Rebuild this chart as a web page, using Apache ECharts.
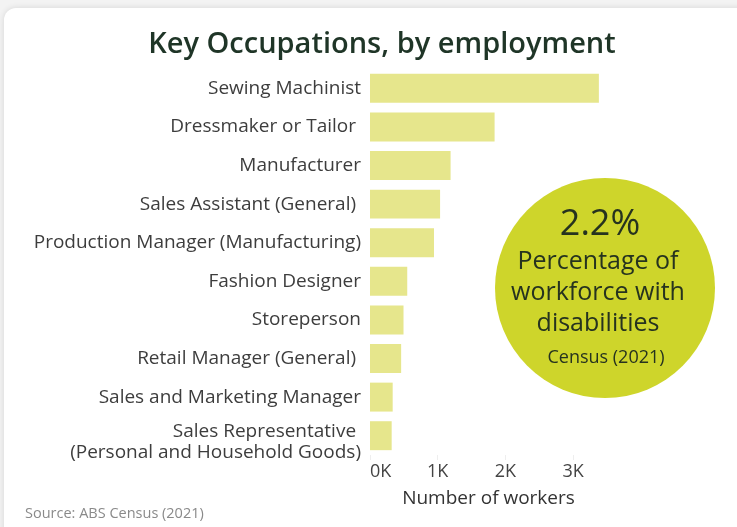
<!DOCTYPE html>
<html>
<head>
<meta charset="utf-8">
<title>Key Occupations, by employment</title>
<script src="https://cdn.jsdelivr.net/npm/echarts@6/dist/echarts.min.js"></script>
<style>
  html, body { margin: 0; padding: 0; background: #f3f3f3; }
  #chart { width: 737px; height: 527px; }
</style>
</head>
<body>
<div id="chart"></div>
<script>
// Occupations, listed from the largest employer down
const occupations = [
  'Sewing Machinist',
  'Dressmaker or Tailor ',
  'Manufacturer',
  'Sales Assistant (General) ',
  'Production Manager (Manufacturing)',
  'Fashion Designer',
  'Storeperson',
  'Retail Manager (General) ',
  'Sales and Marketing Manager',
  'Sales Representative \n(Personal and Household Goods)'
];
// Number of workers in each occupation
const workers = [3380, 1840, 1190, 1035, 945, 550, 495, 460, 335, 320];
// Axis ticks, in thousands of workers
const tickStep = 1000;
const axisMax = 3500;

// Highlight figure shown in the circle
const disabilityShare = '2.2%';
const disabilityLines = ['Percentage of', 'workforce with', 'disabilities'];
const disabilitySource = 'Census (2021)';

const chart = echarts.init(document.getElementById('chart'), null, { renderer: 'canvas' });

const textFont = '"Open Sans", sans-serif';
const darkGreen = '#1f3527';

// Two-line labels get a taller first line so the block sits a little lower
function categoryLabel(name) {
  if (name.indexOf('\n') < 0) return name;
  const lines = name.split('\n');
  return lines.map((line, i) => (i === 0 ? '{first|' : '{rest|') + line + '}').join('\n');
}

chart.setOption({
  backgroundColor: '#f3f3f3',
  animation: false,
  title: {
    text: 'Key Occupations, by employment',
    left: 377,
    textAlign: 'center',
    top: 25,
    textStyle: {
      fontFamily: textFont,
      fontSize: 29,
      fontWeight: 600,
      color: darkGreen
    }
  },
  grid: { left: 370, top: 69, width: 237, bottom: 72, containLabel: false },
  xAxis: {
    type: 'value',
    min: 0,
    max: axisMax,
    interval: tickStep,
    name: 'Number of workers',
    nameLocation: 'middle',
    nameGap: 34,
    nameTextStyle: { fontFamily: textFont, fontSize: 19, color: '#333' },
    axisLine: { show: false },
    axisTick: { show: true, length: 5, inside: false, lineStyle: { color: '#eeeeee' } },
    splitLine: { show: false },
    axisLabel: {
      margin: 8,
      fontFamily: textFont,
      fontSize: 18,
      color: '#444',
      showMaxLabel: false,
      alignMinLabel: 'left',
      formatter: v => (v / 1000) + 'K'
    }
  },
  yAxis: {
    type: 'category',
    inverse: true,
    data: occupations,
    axisLine: { show: false },
    axisTick: { show: false },
    axisLabel: {
      interval: 0,
      margin: 9,
      fontFamily: textFont,
      fontSize: 19,
      lineHeight: 23,
      color: '#3d3d3d',
      formatter: categoryLabel,
      rich: {
        first: {
          fontFamily: textFont, fontSize: 19, color: '#3d3d3d',
          lineHeight: 33, verticalAlign: 'bottom'
        },
        rest: {
          fontFamily: textFont, fontSize: 19, color: '#3d3d3d',
          lineHeight: 23
        }
      }
    }
  },
  series: [{
    type: 'bar',
    data: workers,
    barCategoryGap: '25%',
    itemStyle: { color: '#e6e68c' },
    z: 3
  }],
  graphic: [
    {
      type: 'rect',
      z: -10,
      shape: { x: 4, y: 8, width: 800, height: 600, r: 12 },
      style: {
        fill: '#ffffff',
        shadowBlur: 6,
        shadowColor: 'rgba(0,0,0,0.12)'
      }
    },
    {
      type: 'circle',
      z: 10,
      shape: { cx: 605, cy: 288, r: 110 },
      style: { fill: '#ced52b' }
    },
    {
      type: 'text',
      z: 11,
      x: 600, y: 225,
      style: {
        text: disabilityShare,
        fontFamily: textFont,
        fontSize: 36,
        fill: '#26331f',
        align: 'center',
        verticalAlign: 'middle'
      }
    },
    {
      type: 'text',
      z: 11,
      x: 598, y: 293,
      style: {
        text: disabilityLines.join('\n'),
        fontFamily: textFont,
        fontSize: 25,
        lineHeight: 31,
        fill: '#26331f',
        align: 'center',
        verticalAlign: 'middle'
      }
    },
    {
      type: 'text',
      z: 11,
      x: 606, y: 358,
      style: {
        text: disabilitySource,
        fontFamily: textFont,
        fontSize: 18,
        fill: '#26331f',
        align: 'center',
        verticalAlign: 'middle'
      }
    },
    {
      type: 'text',
      z: 11,
      x: 25, y: 514,
      style: {
        text: 'Source: ABS Census (2021)',
        fontFamily: textFont,
        fontSize: 14.5,
        fill: '#8a8a8a',
        align: 'left',
        verticalAlign: 'middle'
      }
    }
  ]
});
</script>
</body>
</html>
